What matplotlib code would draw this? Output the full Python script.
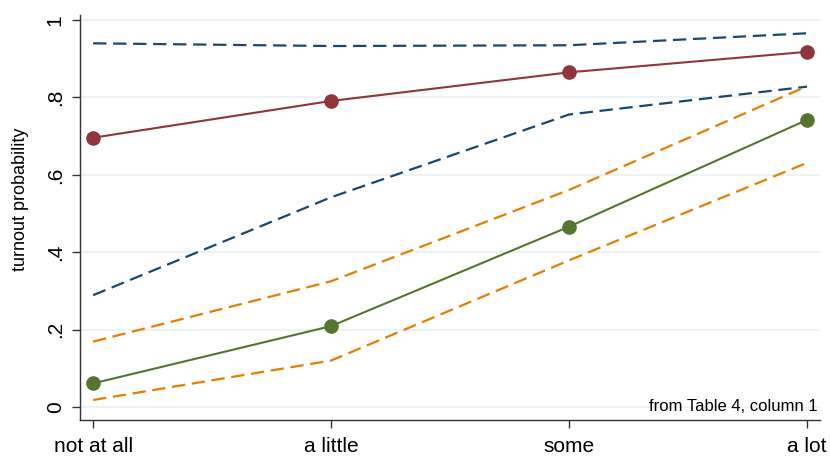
import matplotlib
matplotlib.use('Agg')
import matplotlib.pyplot as plt

plt.rcParams['font.family'] = ['Liberation Sans', 'DejaVu Sans']

# categories on the x axis
categories = ['not at all', 'a little', 'some', 'a lot']
xpos = [1, 2, 3, 4]

# point estimates
red_est = [0.696, 0.791, 0.865, 0.918]
green_est = [0.061, 0.209, 0.466, 0.742]

# confidence bands
blue_hi = [0.940, 0.933, 0.935, 0.966]
blue_lo = [0.289, 0.542, 0.756, 0.828]
orange_hi = [0.169, 0.325, 0.561, 0.829]
orange_lo = [0.018, 0.120, 0.379, 0.631]

yticks = [0, 0.2, 0.4, 0.6, 0.8, 1]
yticklabels = ['0', '.2', '.4', '.6', '.8', '1']

navy = '#1a476f'
maroon = '#90353b'
green = '#55752f'
orange = '#e37e00'

fig = plt.figure(figsize=(8.3, 4.57), dpi=100)
ax = fig.add_axes([0.0964, 0.081, 0.8916, 0.886])

dash = (6.0, 3.0)
ax.plot(xpos, blue_hi, color=navy, lw=1.6, dashes=dash)
ax.plot(xpos, blue_lo, color=navy, lw=1.6, dashes=dash)
ax.plot(xpos, orange_hi, color=orange, lw=1.6, dashes=dash)
ax.plot(xpos, orange_lo, color=orange, lw=1.6, dashes=dash)
ax.plot(xpos, red_est, color=maroon, lw=1.5, marker='o', markersize=9.5)
ax.plot(xpos, green_est, color=green, lw=1.5, marker='o', markersize=9.5)

ax.set_xlim(0.945, 4.055)
ax.set_ylim(-0.0336, 1.013)
ax.set_xticks(xpos)
ax.set_xticklabels(categories, fontsize=15)
ax.set_yticks(yticks)
ax.set_yticklabels(yticklabels, fontsize=15, rotation=90, va='center')
ax.set_ylabel('turnout probability', fontsize=13)
ax.yaxis.set_label_coords(-0.0696, 0.546)

ax.grid(axis='y', color='#eaf2f3', lw=1.3)
ax.set_axisbelow(True)
for side in ['top', 'right']:
    ax.spines[side].set_visible(False)
for side in ['left', 'bottom']:
    ax.spines[side].set_color('#333333')
    ax.spines[side].set_linewidth(1.0)
ax.tick_params(axis='x', length=6, width=1, color='#333333', pad=6)
ax.tick_params(axis='y', length=6, width=1, color='#333333', pad=5)

ax.text(4.045, 0.002, 'from Table 4, column 1', fontsize=12, ha='right', va='center')

fig.savefig('out.png', dpi=100)
